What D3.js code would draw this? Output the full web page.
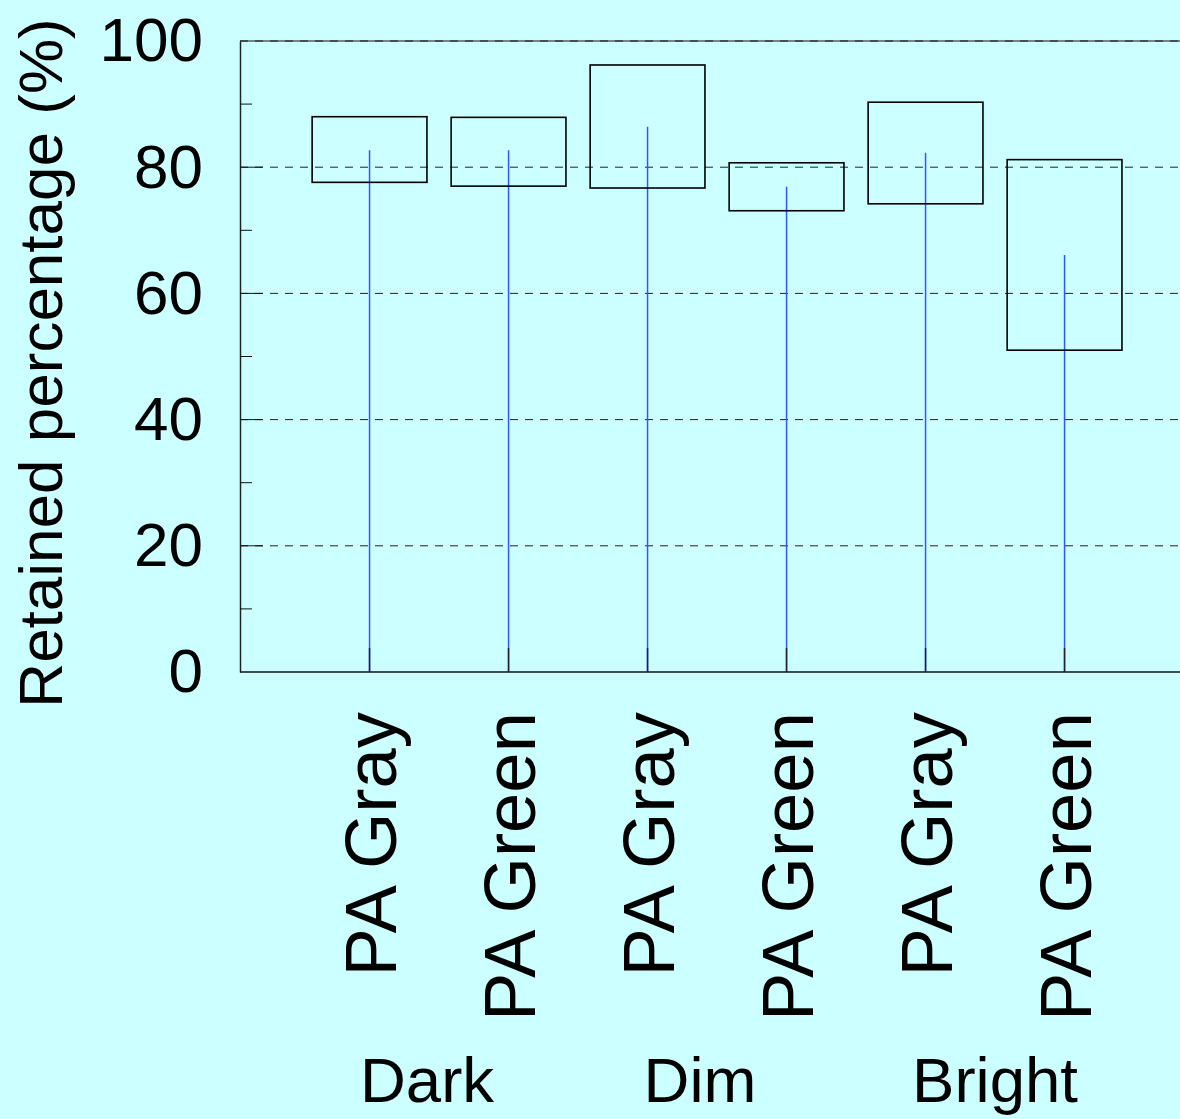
<!DOCTYPE html>
<html>
<head>
<meta charset="utf-8">
<script src="https://cdn.jsdelivr.net/npm/d3@7"></script>
<style>
  html, body { margin: 0; padding: 0; background: #ccffff; }
  svg { display: block; }
  text { font-family: "Liberation Sans", Arial, Helvetica, sans-serif; fill: #000; }
</style>
</head>
<body>
<svg id="chart" width="1180" height="1119"></svg>
<script>
// ---- data ----
const categories = ["PA Gray", "PA Green", "PA Gray", "PA Green", "PA Gray", "PA Green"];
const groups = ["Dark", "Dim", "Bright"];
const boxHigh = [88.0, 87.9, 96.2, 80.7, 90.3, 81.2];
const boxLow  = [77.6, 77.0, 76.7, 73.1, 74.2, 51.0];
const meanVal = [82.7, 82.7, 86.4, 76.9, 82.3, 66.1];
const yTicks = [0, 20, 40, 60, 80, 100];
const yMinorTicks = [10, 30, 50, 70, 90];
const yTitle = "Retained percentage (%)";

// ---- layout ----
const W = 1180, H = 1119;
const svg = d3.select("#chart");
svg.append("rect").attr("width", W).attr("height", H).attr("fill", "#ccffff");

const x = d3.scaleLinear().domain([0.068, 7]).range([240, 240 + 6.932 * 139]);
const y = d3.scaleLinear().domain([0, 100]).range([672, 41]);
const idx = categories.map((_, i) => i + 1);
const halfW = 0.413;

// grid lines
svg.append("g").selectAll("line").data(yTicks.filter(t => t > 0))
  .join("line")
  .attr("x1", x.range()[0]).attr("x2", W)
  .attr("y1", d => y(d)).attr("y2", d => y(d))
  .attr("stroke", "#222").attr("stroke-width", 1)
  .attr("stroke-dasharray", "8,7");

// top border (solid)
svg.append("line")
  .attr("x1", 240).attr("x2", W).attr("y1", y(100)).attr("y2", y(100))
  .attr("stroke", "#111").attr("stroke-width", 1.2);

// mean lines
svg.append("g").selectAll("line").data(idx)
  .join("line")
  .attr("x1", d => x(d)).attr("x2", d => x(d))
  .attr("y1", y(0)).attr("y2", (d, i) => y(meanVal[i]))
  .attr("stroke", "#3355ff").attr("stroke-width", 1.5);

// boxes
svg.append("g").selectAll("rect").data(idx)
  .join("rect")
  .attr("x", d => x(d - halfW))
  .attr("width", d => x(d + halfW) - x(d - halfW))
  .attr("y", (d, i) => y(boxHigh[i]))
  .attr("height", (d, i) => y(boxLow[i]) - y(boxHigh[i]))
  .attr("fill", "none").attr("stroke", "#000").attr("stroke-width", 1.6);

// y axis
const yAxis = d3.axisLeft(y).tickValues(yTicks).tickSize(0).tickPadding(37).tickFormat(d3.format("d"));
const gy = svg.append("g").attr("transform", "translate(240,0)").call(yAxis);
gy.select(".domain").attr("stroke", "#222").attr("stroke-width", 1.5);
gy.selectAll("text").attr("font-size", 62).attr("font-family", "Liberation Sans, Arial, sans-serif").attr("fill", "#000");

// inward major/minor ticks
svg.append("g").selectAll("line").data(yTicks.filter(t => t > 0 && t < 100))
  .join("line")
  .attr("x1", 240).attr("x2", 263).attr("y1", d => y(d)).attr("y2", d => y(d))
  .attr("stroke", "#111").attr("stroke-width", 1);
svg.append("g").selectAll("line").data(yMinorTicks)
  .join("line")
  .attr("x1", 240).attr("x2", 252).attr("y1", d => y(d)).attr("y2", d => y(d))
  .attr("stroke", "#111").attr("stroke-width", 1);

// x axis baseline + ticks
svg.append("line")
  .attr("x1", 240).attr("x2", W).attr("y1", y(0)).attr("y2", y(0))
  .attr("stroke", "#111").attr("stroke-width", 1.5);
svg.append("g").selectAll("line").data(idx)
  .join("line")
  .attr("x1", d => x(d)).attr("x2", d => x(d))
  .attr("y1", y(0)).attr("y2", y(0) - 24)
  .attr("stroke", "#223").attr("stroke-width", 1.5);

// category labels (rotated)
svg.append("g").selectAll("text").data(categories)
  .join("text")
  .attr("transform", (d, i) => `translate(${x(i + 1) + 26},712) rotate(-90)`)
  .attr("text-anchor", "end")
  .attr("font-size", 72.5)
  .text(d => d);

// group labels
const groupShift = [-12, -17, 0];
svg.append("g").selectAll("text").data(groups)
  .join("text")
  .attr("x", (d, i) => (x(2 * i + 1) + x(2 * i + 2)) / 2 + groupShift[i])
  .attr("y", 1102)
  .attr("text-anchor", "middle")
  .attr("font-size", 63.5)
  .text(d => d);

// y title
svg.append("text")
  .attr("transform", "translate(62,363) rotate(-90)")
  .attr("text-anchor", "middle")
  .attr("font-size", 62)
  .text(yTitle);
</script>
</body>
</html>
